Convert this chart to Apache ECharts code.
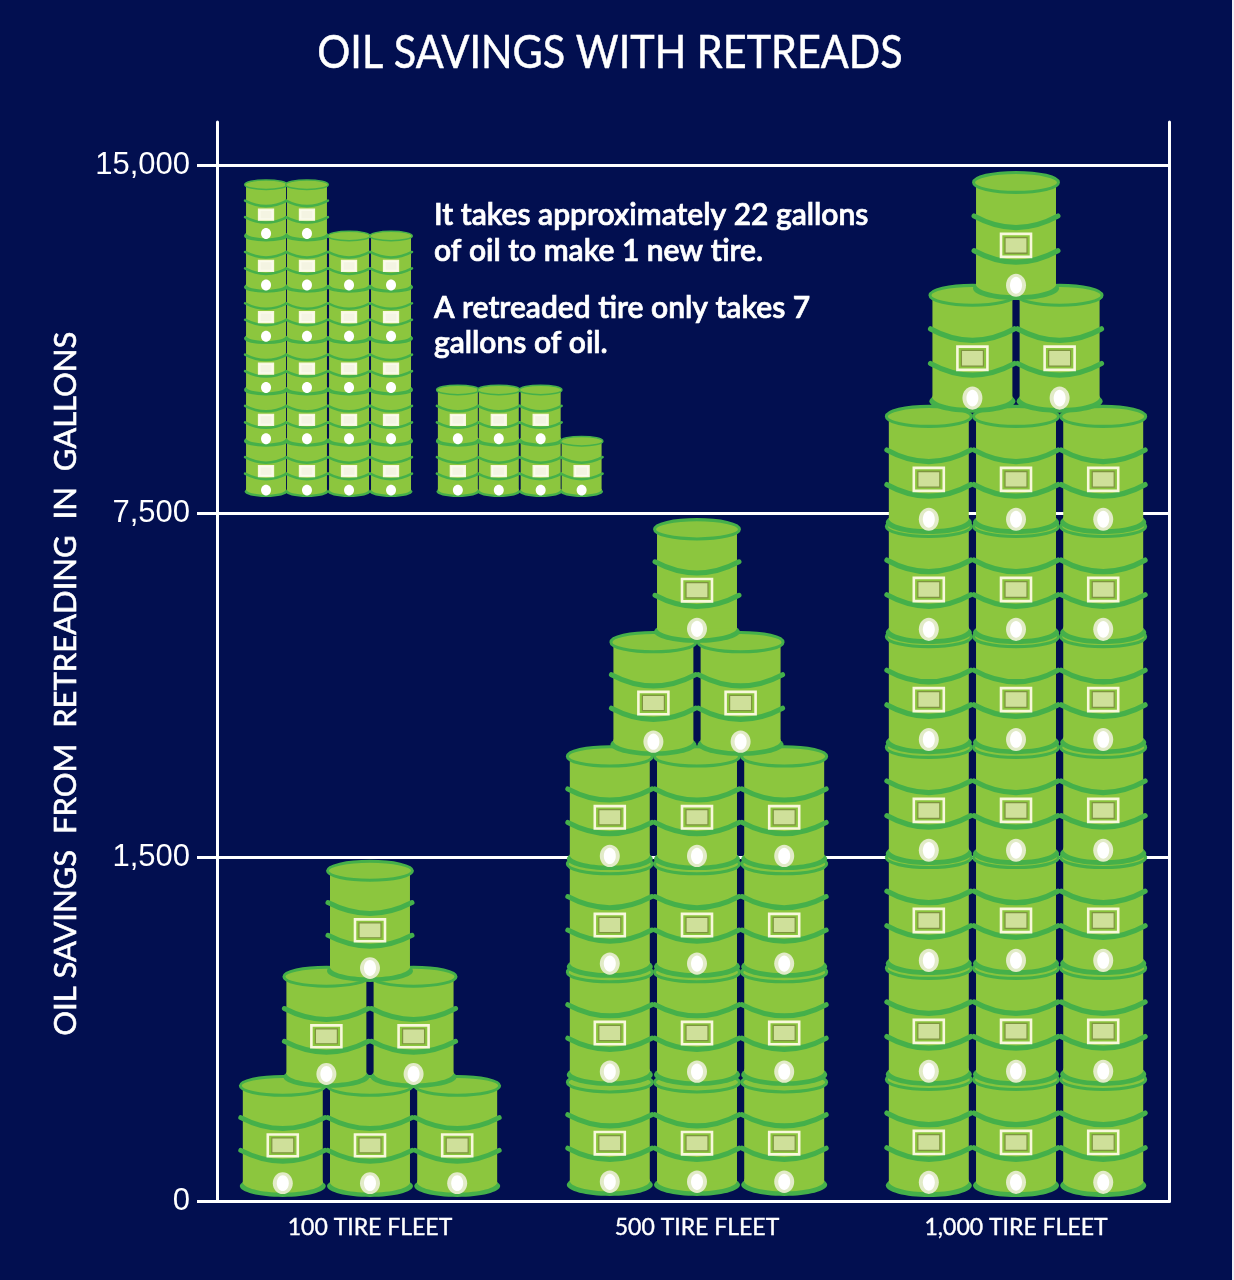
<!DOCTYPE html>
<html><head><meta charset="utf-8">
<style>html,body{margin:0;padding:0;background:#eef0f8}#c{width:1232px;height:1280px}</style>
<script src="https://cdn.jsdelivr.net/npm/echarts@6/dist/echarts.min.js"></script>
</head><body><div id="c"></div>
<script>
const titleText = 'OIL SAVINGS WITH RETREADS';
const yAxisTitle = 'OIL SAVINGS  FROM  RETREADING  IN  GALLONS';
const fleetLabels = ['100 TIRE FLEET', '500 TIRE FLEET', '1,000 TIRE FLEET'];
const yTickPositions = [0, 1, 2, 3.012];
const yTickLabels = ['0', '1,500', '7,500', '15,000'];
const noteLines = ['It takes approximately 22 gallons', 'of oil to make 1 new tire.', 'A retreaded tire only takes 7', 'gallons of oil.'];

// Stack centres on the fleet axis (0-100)
const fleetCentres = [16.07, 50.42, 83.93];
// Barrels per row, bottom row first
const rows100 = [3, 2, 1];
const rows500 = [3, 3, 3, 3, 2, 1];
const rows1000 = [3, 3, 3, 3, 3, 3, 3, 2, 1];
// Foot of each row on the (ordinal) y axis
const bases100 = [0.013, 0.330, 0.638];
const bases500 = [0.016, 0.336, 0.650, 0.963, 1.295, 1.623];
const bases1000 = [0.013, 0.336, 0.658, 0.978, 1.300, 1.620, 1.940, 2.292, 2.620];
const barrelHeights = [0.352, 0.360, 0.372];
const columnStep = 9.16;
// Inset: 22 gallons and 7 gallons
const inset22X = [5.15, 9.45, 13.87, 18.28];
const inset22Rows = [6, 6, 5, 5];
const inset7X = [25.3, 29.6, 34.0, 38.3];
const inset7Rows = [2, 2, 2, 1];
const insetBase = 2.047;
const insetStep = 0.1491;
const insetHeight = 0.177;

const barrels = [];
function addStack(centre, rows, bases, h) {
  rows.forEach((n, r) => {
    for (let i = 0; i < n; i++) barrels.push([centre + (i - (n - 1) / 2) * columnStep, bases[r], 1, h]);
  });
}
addStack(fleetCentres[0], rows100, bases100, barrelHeights[0]);
addStack(fleetCentres[1], rows500, bases500, barrelHeights[1]);
addStack(fleetCentres[2], rows1000, bases1000, barrelHeights[2]);
function addInset(xs, rows) {
  const maxR = Math.max(...rows);
  for (let r = 0; r < maxR; r++) xs.forEach((x, c) => {
    if (r < rows[c]) barrels.push([x, insetBase + r * insetStep, 0.5, insetHeight]);
  });
}
addInset(inset22X, inset22Rows);
addInset(inset7X, inset7Rows);

const LIGHT = '#8cc63e', DARK = '#45b04a', CREAM = '#f8f8dc';
function hoop(y, sag) {
  return { type: 'bezierCurve', shape: { x1: -42, y1: y, x2: 42, y2: y, cpx1: 0, cpy1: y + sag * 2 },
    style: { stroke: DARK, lineWidth: 5, fill: null, lineCap: 'round' } };
}
function renderBarrel(params, api) {
  const s = api.value(2);
  const p = api.coord([api.value(0), api.value(1)]);
  const sz = api.size([8.82, api.value(3)]);
  const sx = sz[0] / 84 * s, sy = sz[1] / 122;
  const small = s !== 1;
  return { type: 'group', x: p[0], y: p[1], scaleX: sx, scaleY: sy, children: [
    { type: 'ellipse', shape: { cx: 0, cy: -11, rx: 43, ry: 11 }, style: { fill: DARK } },
    { type: 'ellipse', shape: { cx: 0, cy: -15, rx: 40, ry: 10.5 }, style: { fill: LIGHT } },
    { type: 'rect', shape: { x: -40, y: -112, width: 80, height: 98 }, style: { fill: LIGHT } },
    hoop(-80, 11), hoop(-47, 11),
    { type: 'ellipse', shape: { cx: 0, cy: -112, rx: 42.5, ry: 9.5 }, style: { fill: '#88c43e', stroke: DARK, lineWidth: 3 } },
    { type: 'rect', shape: { x: -15, y: -63, width: 30, height: 22 }, style: { fill: small ? '#fbfbee' : LIGHT, stroke: CREAM, lineWidth: 2.6 } },
    { type: 'rect', shape: { x: -11, y: -59.5, width: 22, height: 15 }, style: { fill: small ? '#f4f4e2' : '#cfe09a', stroke: small ? null : '#7e9440', lineWidth: 1.2 } },
    { type: 'ellipse', shape: { cx: 0, cy: -14, rx: 10, ry: 11 }, style: { fill: small ? '#ffffff' : '#e2ebc8' } },
    { type: 'ellipse', shape: { cx: 0, cy: -14, rx: 6, ry: 8 }, style: { fill: '#ffffff' } }
  ] };
}

const chart = echarts.init(document.getElementById('c'), null, { renderer: 'canvas' });
const white = '#ffffff';
const noteY = [215, 251, 308, 343];
const option = {
  backgroundColor: '#020f50',
  animation: false,
  grid: { left: 217, right: 63, top: 122, bottom: 78.5 },
  xAxis: { type: 'value', min: 0, max: 100,
    axisLine: { show: true, lineStyle: { color: white, width: 3 } },
    axisTick: { show: false }, splitLine: { show: false },
    axisLabel: { show: true, customValues: fleetCentres, margin: 15, color: white,
      fontFamily: 'Lato', fontSize: 23, textBorderColor: white, textBorderWidth: 0.4,
      formatter: v => fleetLabels[fleetCentres.indexOf(v)] } },
  yAxis: [
    { type: 'value', min: 0, max: 3.1371, position: 'left',
      name: yAxisTitle, nameLocation: 'middle', nameRotate: 90, nameGap: 136,
      nameTextStyle: { color: white, fontFamily: 'Lato', fontSize: 31, padding: [0, 44, 0, 0], textBorderColor: white, textBorderWidth: 0.6 },
      axisLine: { show: true, onZero: false, lineStyle: { color: white, width: 3 } },
      axisTick: { show: true, length: 20, customValues: yTickPositions, lineStyle: { color: white, width: 3 } },
      splitLine: { show: true, showMaxLine: true, showMinLine: false, lineStyle: { color: white, width: 3 } },
      axisLabel: { customValues: yTickPositions, margin: 27, color: white, fontFamily: 'Liberation Sans', fontSize: 31, padding: [0, 0, 4, 0],
        formatter: v => yTickLabels[yTickPositions.indexOf(v)] } },
    { type: 'value', min: 0, max: 3.1371, position: 'right',
      axisLine: { show: true, onZero: false, lineStyle: { color: white, width: 3 } },
      axisTick: { show: false }, splitLine: { show: false }, axisLabel: { show: false } }
  ],
  graphic: [
    { type: 'text', x: 610, y: 53, scaleX: 0.88, style: { text: titleText, fill: white, stroke: white, lineWidth: 0.5, font: '47px Lato', align: 'center', verticalAlign: 'middle' } }
  ].concat(noteLines.map((t, i) => (
    { type: 'text', x: 434, y: noteY[i], style: { text: t, fill: white, stroke: white, lineWidth: 0.7, font: '600 30px Lato', align: 'left', verticalAlign: 'middle' } }
  ))),
  series: [{ type: 'custom', coordinateSystem: 'cartesian2d', xAxisIndex: 0, yAxisIndex: 0, clip: false,
    data: barrels, encode: { x: 0, y: 1 }, renderItem: renderBarrel }]
};
chart.setOption(option);
</script></body></html>
